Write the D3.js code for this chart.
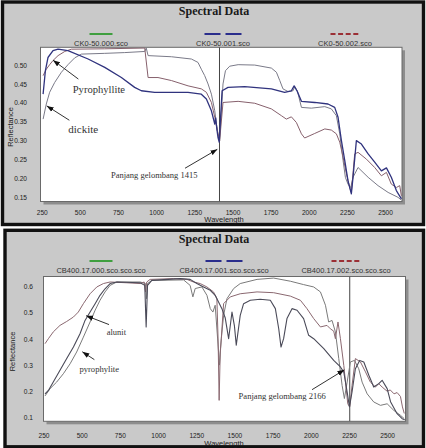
<!DOCTYPE html>
<html>
<head>
<meta charset="utf-8">
<script src="https://cdn.jsdelivr.net/npm/d3@7"></script>
<style>
  html, body { margin: 0; padding: 0; background: #fff; }
  svg { display: block; }
</style>
</head>
<body>
<svg id="chart" width="426" height="448"></svg>
<script>
// Spectral Data – zwei Spektren-Panels übereinander

const width = 426, height = 448;

// Achsen-Ticks
const xTicks = [250, 500, 750, 1000, 1250, 1500, 1750, 2000, 2250, 2500];
const yTicksTop = [0.15, 0.20, 0.25, 0.30, 0.35, 0.40, 0.45, 0.50];
const yTicksBottom = [0.1, 0.2, 0.3, 0.4, 0.5, 0.6];

// Legenden
const namesTop = ["CK0-50.000.sco", "CK0-50.001.sco", "CK0-50.002.sco"];
const namesBottom = ["CB400.17.000.sco.sco.sco", "CB400.17.001.sco.sco.sco", "CB400.17.002.sco.sco.sco"];

// Panel oben: [Wellenlänge, Reflektanz]
const ck000 = [[259,0.357],[280,0.397],[302,0.428],[335,0.454],[379,0.481],[422,0.501],[466,0.519],[510,0.529],[663,0.531],[794,0.533],[925,0.536],[935,0.545],[947,0.525],[1100,0.522],[1231,0.516],[1274,0.507],[1296,0.489],[1318,0.472],[1340,0.450],[1362,0.423],[1384,0.379],[1395,0.344],[1405,0.318],[1416,0.300],
  [1438,0.450],[1454,0.485],[1482,0.497],[1537,0.501],[1646,0.500],[1755,0.492],[1788,0.481],[1810,0.459],[1831,0.437],[1864,0.430],[1897,0.432],[1908,0.443],[1925,0.432],[1952,0.388],[2017,0.386],[2105,0.390],[2148,0.384],[2181,0.366],[2203,0.318],[2225,0.247],[2240,0.203],[2257,0.185],[2275,0.176],[2290,0.203],[2323,0.229],[2389,0.203],[2454,0.181],[2520,0.163],[2585,0.150],[2606,0.143]];
const ck001 = [[259,0.423],[274,0.485],[291,0.520],[324,0.538],[357,0.542],[422,0.538],[554,0.516],[663,0.494],[772,0.467],[859,0.441],[903,0.432],[990,0.428],[1209,0.428],[1296,0.423],[1329,0.410],[1362,0.379],[1384,0.344],[1390,0.360],[1398,0.330],[1405,0.309],[1413,0.296],
  [1432,0.432],[1471,0.441],[1580,0.443],[1755,0.437],[1842,0.428],[1886,0.432],[1904,0.445],[1925,0.430],[1952,0.404],[2039,0.401],[2126,0.397],[2170,0.388],[2192,0.362],[2214,0.300],[2236,0.247],[2257,0.194],[2279,0.159],[2290,0.203],[2312,0.300],[2345,0.291],[2389,0.265],[2432,0.243],[2476,0.220],[2509,0.228],[2541,0.203],[2574,0.168],[2607,0.146]];
const ck002 = [[259,0.472],[280,0.489],[302,0.501],[324,0.512],[357,0.525],[401,0.536],[444,0.542],[663,0.543],[925,0.545],[947,0.467],[1012,0.467],[1100,0.459],[1209,0.445],[1296,0.437],[1329,0.428],[1362,0.401],[1384,0.362],[1401,0.326],[1416,0.300],
  [1438,0.401],[1537,0.404],[1646,0.399],[1755,0.384],[1821,0.366],[1853,0.357],[1886,0.363],[1919,0.348],[1952,0.318],[1973,0.307],[2039,0.319],[2105,0.331],[2148,0.328],[2181,0.318],[2203,0.296],[2225,0.256],[2247,0.212],[2268,0.176],[2279,0.163],[2301,0.265],[2323,0.269],[2378,0.251],[2432,0.229],[2476,0.207],[2509,0.216],[2541,0.185],[2574,0.176],[2596,0.181],[2607,0.154]];

// Panel unten
const cb000 = [[260,0.182],[293,0.210],[336,0.235],[380,0.267],[424,0.305],[467,0.350],[511,0.407],[555,0.465],[588,0.510],[620,0.548],[653,0.580],[686,0.605],[730,0.618],[883,0.618],[918,0.612],[924,0.554],[931,0.612],[959,0.624],[1167,0.626],[1210,0.605],[1228,0.561],[1243,0.593],[1287,0.599],[1320,0.567],[1342,0.516],[1359,0.503],[1374,0.529],[1390,0.400],[1402,0.300],[1414,0.400],[1429,0.490],[1451,0.554],[1495,0.593],[1538,0.612],[1648,0.628],[1757,0.633],[1866,0.621],[1953,0.608],[2019,0.599],[2063,0.580],[2096,0.529],[2117,0.465],[2139,0.471],[2161,0.427],[2183,0.325],[2205,0.222],[2220,0.172],[2238,0.235],[2259,0.312],[2286,0.318],[2314,0.286],[2336,0.235],[2369,0.190],[2412,0.159],[2456,0.146],[2500,0.152],[2543,0.127],[2587,0.108],[2612,0.095]];
const cb001 = [[260,0.190],[282,0.203],[314,0.235],[358,0.280],[402,0.325],[446,0.369],[489,0.420],[522,0.471],[555,0.503],[588,0.535],[620,0.567],[653,0.592],[686,0.612],[730,0.618],[883,0.615],[913,0.605],[922,0.446],[931,0.605],[959,0.624],[1145,0.631],[1210,0.628],[1254,0.612],[1298,0.599],[1342,0.586],[1374,0.567],[1396,0.541],[1418,0.516],[1440,0.480],[1462,0.401],[1484,0.503],[1500,0.450],[1512,0.376],[1538,0.490],[1560,0.535],[1604,0.548],[1669,0.552],[1735,0.548],[1768,0.516],[1790,0.439],[1805,0.369],[1822,0.401],[1844,0.478],[1877,0.516],[1910,0.510],[1953,0.478],[1986,0.414],[2019,0.401],[2085,0.363],[2150,0.318],[2194,0.293],[2216,0.273],[2238,0.197],[2253,0.140],[2270,0.197],[2292,0.286],[2320,0.318],[2347,0.312],[2380,0.261],[2412,0.216],[2445,0.229],[2467,0.242],[2500,0.210],[2522,0.160],[2565,0.114],[2598,0.095],[2615,0.091]];
const cb002 = [[260,0.382],[282,0.401],[314,0.427],[358,0.452],[402,0.467],[446,0.484],[478,0.503],[511,0.535],[555,0.573],[599,0.599],[642,0.612],[686,0.618],[795,0.615],[883,0.612],[909,0.618],[918,0.580],[926,0.618],[948,0.628],[1101,0.631],[1189,0.628],[1232,0.618],[1276,0.612],[1320,0.599],[1363,0.580],[1385,0.554],[1393,0.400],[1400,0.165],[1407,0.350],[1414,0.401],[1429,0.535],[1473,0.561],[1538,0.573],[1648,0.580],[1757,0.577],[1866,0.564],[1932,0.548],[1975,0.516],[2019,0.478],[2063,0.446],[2106,0.452],[2128,0.439],[2150,0.430],[2161,0.401],[2178,0.465],[2194,0.401],[2216,0.299],[2242,0.152],[2255,0.140],[2270,0.222],[2292,0.325],[2325,0.312],[2358,0.274],[2390,0.235],[2423,0.216],[2445,0.229],[2467,0.216],[2500,0.200],[2520,0.205],[2545,0.190],[2565,0.195],[2587,0.180],[2600,0.140],[2612,0.115]];

const svg = d3.select("#chart")
  .attr("viewBox", `0 0 ${width} ${height}`);

// Pfeilspitze
svg.append("defs").append("marker")
  .attr("id", "arrow")
  .attr("viewBox", "0 -3 7 6")
  .attr("refX", 7).attr("refY", 0)
  .attr("markerUnits", "userSpaceOnUse")
  .attr("markerWidth", 7).attr("markerHeight", 6)
  .attr("orient", "auto")
  .append("path")
  .attr("d", "M0,-2.6L7,0L0,2.6Z")
  .attr("fill", "#111");

const legendStyle = [
  { color: "#3f9f3f", dash: null,  len: 23 },
  { color: "#2a2d8c", dash: "16,5", len: 37 },
  { color: "#9b2f35", dash: "5,2.6", len: 29 }
];

function drawPanel(cfg) {
  const root = svg.append("g");

  root.append("rect")
    .attr("x", cfg.box[0]).attr("y", cfg.box[1])
    .attr("width", cfg.box[2]).attr("height", cfg.box[3])
    .attr("fill", "#c9c9c9")
    .attr("stroke", "#111")
    .attr("stroke-width", 3.4);

  root.append("text")
    .attr("x", 214).attr("y", cfg.titleY)
    .attr("text-anchor", "middle")
    .attr("font-family", "Liberation Serif, serif")
    .attr("font-weight", "bold")
    .attr("font-size", 12)
    .attr("fill", "#1a1a1a")
    .text("Spectral Data");

  // Legende
  cfg.names.forEach((name, i) => {
    const st = legendStyle[i];
    const cx = cfg.legendX[i];
    root.append("line")
      .attr("x1", cx - st.len / 2).attr("x2", cx + st.len / 2)
      .attr("y1", cfg.legendY).attr("y2", cfg.legendY)
      .attr("stroke", st.color)
      .attr("stroke-width", 2)
      .attr("stroke-dasharray", st.dash);
    root.append("text")
      .attr("x", cx).attr("y", cfg.legendY + 11.5)
      .attr("text-anchor", "middle")
      .attr("font-family", "Liberation Sans, Arial, sans-serif")
      .attr("font-size", cfg.legendFont)
      .attr("fill", "#333")
      .text(name);
  });

  const p = cfg.plot;
  const x = d3.scaleLinear().domain(cfg.xDomain).range([p.left, p.right]);
  const y = d3.scaleLinear().domain(cfg.yDomain).range([p.bottom, p.top]);

  // Plotfläche mit Schatten
  root.append("rect")
    .attr("x", p.left + 3).attr("y", p.top + 3)
    .attr("width", p.right - p.left).attr("height", p.bottom - p.top)
    .attr("fill", "#8d8d8d");
  root.append("rect")
    .attr("x", p.left).attr("y", p.top)
    .attr("width", p.right - p.left).attr("height", p.bottom - p.top)
    .attr("fill", "#fff")
    .attr("stroke", "#6a6a6a")
    .attr("stroke-width", 1);

  root.append("clipPath").attr("id", cfg.id)
    .append("rect")
    .attr("x", p.left).attr("y", p.top)
    .attr("width", p.right - p.left).attr("height", p.bottom - p.top);

  const line = d3.line().x(d => x(d[0])).y(d => y(d[1]));
  const curves = root.append("g").attr("clip-path", `url(#${cfg.id})`);

  curves.append("line")
    .attr("x1", x(cfg.marker)).attr("x2", x(cfg.marker))
    .attr("y1", p.top).attr("y2", p.bottom)
    .attr("stroke", "#444")
    .attr("stroke-width", 1);

  curves.selectAll("path.curve")
    .data(cfg.series)
    .join("path")
    .attr("class", "curve")
    .attr("d", s => line(s.values))
    .attr("fill", "none")
    .attr("stroke", s => s.color)
    .attr("stroke-width", s => s.w)
    .attr("stroke-linejoin", "round");

  // Achsen
  const font = "Liberation Sans, Arial, sans-serif";
  root.append("g")
    .attr("transform", `translate(0,${p.bottom})`)
    .call(d3.axisBottom(x).tickValues(xTicks).tickSize(0).tickFormat(d3.format("d")))
    .call(g => g.select(".domain").remove())
    .call(g => g.selectAll("text").attr("dy", null).attr("y", cfg.xLabelOffset))
    .attr("font-family", font)
    .attr("font-size", 6.6)
    .attr("fill", "#222");

  root.append("g")
    .attr("transform", `translate(${p.left},0)`)
    .call(d3.axisLeft(y).tickValues(cfg.yTicks).tickSize(0).tickPadding(cfg.yPad).tickFormat(d3.format(cfg.yFormat)))
    .call(g => g.select(".domain").remove())
    .attr("font-family", font)
    .attr("font-size", 6.6);
  root.selectAll(".tick text").attr("fill", "#222");

  root.append("text")
    .attr("x", 224).attr("y", cfg.xTitleY)
    .attr("text-anchor", "middle")
    .attr("font-family", font)
    .attr("font-size", 7.5)
    .attr("fill", "#1a1a1a")
    .text("Wavelength");

  root.append("text")
    .attr("transform", `translate(${cfg.yTitle[0]},${cfg.yTitle[1]}) rotate(-90)`)
    .attr("text-anchor", "middle")
    .attr("font-family", font)
    .attr("font-size", 7.5)
    .attr("fill", "#1a1a1a")
    .text("Reflectance");

  // Beschriftungen mit Pfeilen
  cfg.notes.forEach(n => {
    root.append("text")
      .attr("x", x(n.at[0])).attr("y", y(n.at[1]))
      .attr("font-family", "Liberation Serif, serif")
      .attr("font-size", n.size)
      .attr("fill", "#333")
      .text(n.text);
    root.append("line")
      .attr("x1", x(n.from[0])).attr("y1", y(n.from[1]))
      .attr("x2", x(n.to[0])).attr("y2", y(n.to[1]))
      .attr("stroke", "#333")
      .attr("stroke-width", 1)
      .attr("marker-end", "url(#arrow)");
  });
}

drawPanel({
  id: "clipTop",
  box: [2.5, 2, 421, 222.5],
  titleY: 15,
  names: namesTop,
  legendX: [101, 223, 345],
  legendY: 34,
  legendFont: 7.5,
  plot: { left: 40.5, right: 402, top: 47.3, bottom: 201.5 },
  xDomain: [242, 2611],
  yDomain: [0.139, 0.547],
  yTicks: yTicksTop,
  yFormat: ".2f",
  yPad: 13.5,
  xLabelOffset: 13.5,
  xTitleY: 221.5,
  yTitle: [13, 127],
  marker: 1415,
  series: [
    { values: ck000, color: "#7a7a88", w: 1 },
    { values: ck002, color: "#86606c", w: 1 },
    { values: ck001, color: "#30337e", w: 1.3 }
  ],
  notes: [
    { text: "Pyrophyllite", at: [453, 0.427], size: 10.6, from: [490, 0.463], to: [324, 0.513] },
    { text: "dickite", at: [424, 0.319], size: 11, from: [431, 0.354], to: [283, 0.392] },
    { text: "Panjang gelombang 1415", at: [704, 0.201], size: 8.5, from: [1189, 0.227], to: [1401, 0.277] }
  ]
});

drawPanel({
  id: "clipBottom",
  box: [5, 230.3, 418.5, 216.5],
  titleY: 242.5,
  names: namesBottom,
  legendX: [101, 224, 346],
  legendY: 261,
  legendFont: 7.5,
  plot: { left: 43.5, right: 405.5, top: 276.5, bottom: 421.3 },
  xDomain: [250, 2620],
  yDomain: [0.085, 0.639],
  yTicks: yTicksBottom,
  yFormat: ".1f",
  yPad: 10.5,
  xLabelOffset: 16.5,
  xTitleY: 445.5,
  yTitle: [15, 351.5],
  marker: 2255,
  series: [
    { values: cb000, color: "#7a7a7a", w: 1 },
    { values: cb002, color: "#8a6870", w: 1 },
    { values: cb001, color: "#4a4a58", w: 1.1 }
  ],
  notes: [
    { text: "alunit", at: [664, 0.415], size: 8.5, from: [679, 0.455], to: [529, 0.489] },
    { text: "pyrophylite", at: [485, 0.275], size: 8.6, from: [583, 0.321], to: [504, 0.351] },
    { text: "Panjang gelombang 2166", at: [1527, 0.170], size: 8.6, from: [2008, 0.206], to: [2220, 0.282] }
  ]
});
</script>
</body>
</html>
